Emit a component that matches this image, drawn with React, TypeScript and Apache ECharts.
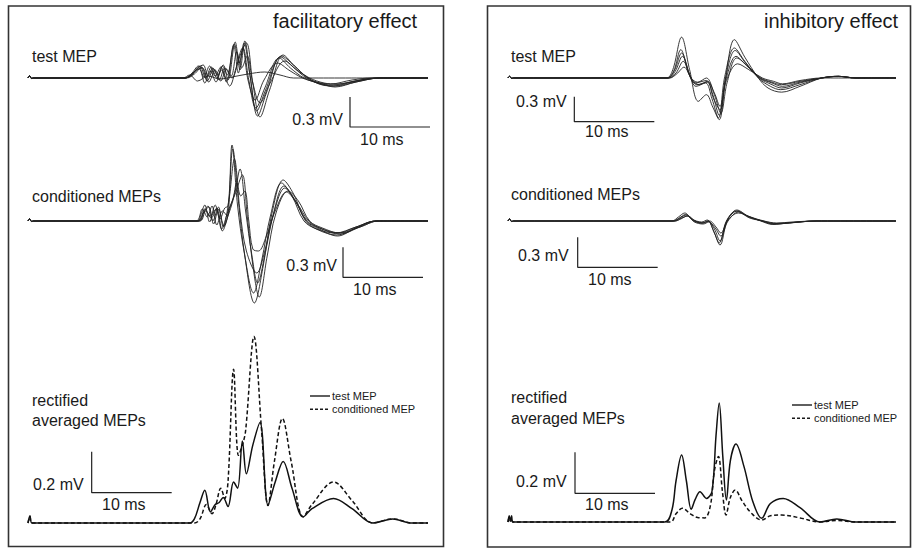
import React, { useEffect, useRef } from "react";
import * as echarts from "echarts";

// ---------- data (time in ms, amplitude in mV) ----------
const PRE: number[][] = [[0, 0], [0.2, 0.02], [0.45, -0.005], [0.7, 0]];

// Facilitatory effect – single test MEP sweeps
const FAC_TEST_SWEEPS: number[][][] = [
  [[19.5, 0], [20.3, 0.02], [21.2, 0.1], [21.9, 0.13], [22.5, 0.02], [23.1, 0.1], [23.7, 0.03], [24.4, 0.13], [25.0, -0.02], [25.9, 0.36], [26.5, 0.08], [27.1, 0.37], [27.8, 0.0], [28.7, -0.38], [29.8, -0.15], [31.6, 0.21], [33.0, 0.12], [34.8, 0], [36.5, -0.06], [38.2, -0.08], [40.5, -0.04], [43.5, 0], [50, 0]],
  [[19.6, 0], [20.5, 0.03], [21.5, 0.12], [22.2, 0.0], [22.9, 0.11], [23.6, 0.0], [24.3, 0.12], [24.9, 0.03], [25.7, 0.33], [26.3, 0.05], [26.9, 0.3], [27.6, -0.02], [28.5, -0.3], [29.6, -0.1], [31.4, 0.2], [32.8, 0.1], [34.5, 0], [36.3, -0.05], [38.0, -0.07], [41, -0.03], [44, 0], [50, 0]],
  [[19.8, 0], [20.8, 0.04], [21.7, 0.11], [22.4, -0.03], [23.2, 0.09], [23.9, -0.02], [24.6, 0.1], [25.5, 0.0], [26.4, 0.2], [27.3, 0.35], [28.1, -0.05], [29.0, -0.39], [30.2, -0.12], [31.9, 0.23], [33.3, 0.12], [35.0, 0], [36.8, -0.06], [38.4, -0.09], [41, -0.04], [44, 0], [50, 0]],
  [[19.5, 0], [20.2, 0.02], [21.0, 0.08], [21.8, 0.1], [22.6, -0.04], [23.4, 0.08], [24.1, -0.03], [24.8, 0.09], [25.4, 0.02], [26.1, 0.26], [26.7, 0.1], [27.4, 0.22], [28.1, -0.05], [29.0, -0.25], [30.2, -0.06], [32.1, 0.17], [33.6, 0.08], [35.2, 0], [37, -0.05], [38.6, -0.06], [41.5, -0.02], [44, 0], [50, 0]],
  [[19.7, 0], [20.6, 0.05], [21.4, 0.09], [22.1, -0.05], [22.8, 0.07], [23.5, -0.04], [24.2, 0.08], [25.2, -0.08], [26.0, 0.1], [26.8, 0.3], [27.5, -0.02], [28.4, -0.22], [29.5, -0.02], [31.2, 0.15], [32.6, 0.08], [34.3, 0], [36, -0.04], [37.8, -0.06], [40.5, -0.02], [43, 0], [50, 0]],
  [[19.4, 0], [20.2, 0.03], [21.2, -0.03], [22.5, 0.02], [24, -0.01], [25.5, 0.01], [27.5, 0.04], [29.6, 0.06], [31.5, 0.03], [33.2, 0], [50, 0]],
  [[19.6, 0], [20.4, 0.04], [21.3, 0.12], [22.0, 0.01], [22.7, 0.12], [23.4, 0.02], [24.1, 0.11], [24.8, -0.04], [25.8, 0.34], [26.4, 0.15], [27.0, 0.35], [27.7, 0.05], [28.6, -0.33], [29.7, -0.12], [31.7, 0.22], [33.2, 0.13], [35.0, 0], [36.8, -0.07], [38.4, -0.08], [41, -0.04], [44, 0], [50, 0]],
];

// Facilitatory effect – conditioned MEP sweeps
const FAC_COND_SWEEPS: number[][][] = [
  [[21.2, 0], [21.6, 0.06], [22.1, 0.16], [22.7, -0.01], [23.4, 0.16], [24.0, 0.02], [24.6, 0.13], [25.0, 0.15], [25.6, 0.72], [26.3, 0.2], [27.1, -0.35], [28.3, -0.82], [29.4, -0.45], [30.5, 0.08], [31.9, 0.41], [33.2, 0.27], [34.7, 0.0], [36.3, -0.09], [38.6, -0.14], [41, -0.07], [43.5, 0], [50, 0]],
  [[21.4, 0], [22.0, 0.09], [22.6, 0.14], [23.2, -0.03], [23.8, 0.12], [24.5, -0.05], [25.2, 0.12], [25.9, 0.3], [26.5, 0.52], [27.2, 0.1], [28.0, -0.35], [28.7, -0.62], [29.7, -0.3], [30.8, 0.1], [32.1, 0.33], [33.4, 0.2], [34.9, 0], [36.5, -0.07], [38.8, -0.12], [41, -0.06], [43.5, 0], [50, 0]],
  [[21.0, 0], [21.8, 0.12], [22.4, 0.04], [23.0, 0.15], [23.6, -0.04], [24.3, 0.1], [24.9, 0.05], [25.5, 0.76], [26.2, 0.15], [27.0, -0.3], [28.2, -0.72], [29.2, -0.4], [30.3, 0.05], [31.7, 0.38], [33.0, 0.25], [34.5, 0], [36.1, -0.08], [38.4, -0.12], [41, -0.06], [43.5, 0], [50, 0]],
  [[21.5, 0], [22.2, 0.1], [22.9, 0.03], [23.6, 0.13], [24.3, -0.1], [25.0, 0.05], [25.6, 0.2], [26.1, 0.38], [26.6, 0.25], [27.1, 0.3], [27.6, 0.0], [28.1, -0.28], [28.8, -0.3], [29.8, -0.15], [30.9, 0.1], [32.3, 0.29], [33.6, 0.18], [35.1, 0], [36.7, -0.08], [39, -0.13], [41.5, -0.06], [43.8, 0], [50, 0]],
  [[21.2, 0], [21.9, 0.08], [22.5, 0.15], [23.1, 0.0], [23.8, 0.14], [24.4, -0.06], [25.1, 0.2], [25.8, 0.62], [26.5, 0.1], [27.3, -0.3], [28.6, -0.52], [29.6, -0.3], [30.6, 0.05], [32.0, 0.35], [33.3, 0.22], [34.8, 0], [36.4, -0.08], [38.7, -0.15], [41, -0.07], [43.5, 0], [50, 0]],
  [[21.3, 0], [22.1, 0.12], [22.8, 0.05], [23.5, 0.12], [24.2, -0.08], [25.0, 0.1], [25.8, 0.25], [26.8, 0.46], [27.4, 0.05], [28.2, -0.5], [28.9, -0.76], [29.9, -0.35], [31.0, 0.08], [32.5, 0.3], [33.8, 0.2], [35.2, 0], [36.8, -0.07], [39, -0.12], [41.5, -0.06], [43.8, 0], [50, 0]],
];

// Facilitatory effect – rectified averages
const FAC_RECT_TEST: number[][] = [[0, 0], [0.25, 0.035], [0.5, 0.0], [20.2, 0], [20.8, 0.02], [21.5, 0.1], [22.1, 0.16], [22.8, 0.055], [23.4, 0.09], [23.9, 0.1], [24.4, 0.125], [25.0, 0.08], [25.7, 0.2], [26.2, 0.17], [26.8, 0.4], [27.3, 0.24], [28.1, 0.38], [29.0, 0.49], [30.0, 0.088], [30.9, 0.2], [31.9, 0.3], [33.0, 0.17], [34.4, 0.03], [35.5, 0.07], [38.2, 0.12], [40.5, 0.07], [43.1, 0.0], [45.6, 0.02], [48, 0.0], [50, 0]];
const FAC_RECT_COND: number[][] = [[0, 0], [0.25, 0.03], [0.5, 0], [20.8, 0], [21.5, 0.02], [22.3, 0.09], [23.0, 0.045], [23.5, 0.09], [24.1, 0.17], [24.6, 0.12], [25.0, 0.2], [25.7, 0.75], [26.3, 0.33], [26.8, 0.38], [27.2, 0.45], [28.25, 0.91], [29.2, 0.45], [30.0, 0.085], [30.8, 0.3], [31.8, 0.51], [32.9, 0.3], [34.4, 0.03], [35.5, 0.09], [38.2, 0.2], [40.5, 0.11], [43.1, 0.0], [45.6, 0.02], [48, 0], [50, 0]];

// Inhibitory effect – single test MEP sweeps
const INH_TEST_SWEEPS: number[][][] = [
  [[19.8, 0], [20.6, 0.1], [21.7, 0.49], [22.7, 0.1], [23.8, -0.28], [24.8, -0.2], [25.6, -0.35], [26.4, -0.5], [27.2, 0.0], [28.3, 0.46], [29.6, 0.25], [31.3, 0], [32.5, -0.12], [34.2, -0.17], [36.5, -0.1], [39.2, 0], [41.3, 0.02], [43.5, 0], [48.5, 0]],
  [[19.9, 0], [20.7, 0.08], [21.6, 0.34], [22.6, 0.05], [23.4, -0.06], [24.8, -0.03], [25.6, -0.2], [26.4, -0.45], [27.2, 0.0], [28.4, 0.33], [29.7, 0.18], [31.4, 0], [33, -0.08], [34.2, -0.12], [36.5, -0.06], [39.2, 0], [41.3, 0.02], [43.5, 0], [48.5, 0]],
  [[20.0, 0], [20.9, 0.08], [21.8, 0.26], [22.8, 0.02], [23.6, -0.08], [24.9, -0.05], [25.7, -0.25], [26.5, -0.38], [27.3, 0.0], [28.5, 0.26], [29.8, 0.15], [31.5, 0], [33, -0.06], [34.3, -0.1], [36.5, -0.05], [39.2, 0], [41.3, 0.02], [43.5, 0], [48.5, 0]],
  [[20.1, 0], [21.0, 0.06], [21.9, 0.2], [22.9, 0.0], [23.7, -0.05], [24.8, 0.0], [25.8, -0.2], [26.6, -0.42], [27.4, -0.05], [28.6, 0.24], [30.0, 0.14], [31.6, 0], [33, -0.05], [34.2, -0.08], [36.5, -0.04], [39.2, 0], [41.3, 0.02], [43.5, 0], [48.5, 0]],
  [[20.2, 0], [21.1, 0.05], [22.0, 0.13], [23.0, -0.02], [23.9, -0.08], [24.9, -0.04], [25.8, -0.18], [26.5, -0.34], [27.3, -0.03], [28.7, 0.17], [30.1, 0.1], [31.8, 0], [33.2, -0.04], [34.3, -0.07], [36.5, -0.03], [39.2, 0], [43.5, 0], [48.5, 0]],
  [[19.9, 0], [20.8, 0.09], [21.7, 0.3], [22.7, 0.04], [23.5, -0.1], [24.7, -0.06], [25.5, -0.25], [26.3, -0.48], [27.1, 0.02], [28.3, 0.36], [29.6, 0.2], [31.3, 0], [32.8, -0.1], [34.1, -0.14], [36.5, -0.08], [39.2, 0], [41.3, 0.02], [43.5, 0], [48.5, 0]],
];

// Inhibitory effect – conditioned MEP sweeps
const INH_COND_SWEEPS: number[][][] = [
  [[20.5, 0], [21.3, 0.04], [22.1, 0.08], [23.0, 0.02], [24.2, -0.01], [24.9, 0.01], [25.7, -0.1], [26.5, -0.24], [27.4, 0.0], [28.6, 0.11], [30.0, 0.05], [31.7, 0], [33.2, -0.03], [35.0, -0.02], [38.5, 0], [48.5, 0]],
  [[20.7, 0], [21.5, 0.03], [22.3, 0.06], [23.2, 0.0], [24.3, -0.02], [25.0, 0.0], [25.8, -0.08], [26.5, -0.2], [27.4, 0.01], [28.7, 0.1], [30.1, 0.04], [31.8, 0], [33.4, -0.03], [35.2, -0.02], [38.5, 0], [48.5, 0]],
  [[20.8, 0], [21.6, 0.02], [22.4, 0.05], [23.3, -0.01], [24.4, -0.03], [25.1, -0.01], [25.9, -0.07], [26.6, -0.15], [27.5, 0.0], [28.8, 0.09], [30.2, 0.03], [31.9, 0], [33.5, -0.025], [35.5, -0.015], [38.5, 0], [48.5, 0]],
  [[20.6, 0], [21.4, 0.03], [22.2, 0.065], [23.1, 0.01], [24.2, -0.02], [25.0, 0.0], [25.8, -0.12], [26.4, -0.22], [27.3, 0.0], [28.5, 0.1], [29.9, 0.05], [31.6, 0], [33.1, -0.035], [35, -0.02], [38.5, 0], [48.5, 0]],
  [[20.9, 0], [21.7, 0.03], [22.5, 0.05], [23.4, 0.0], [24.5, -0.02], [25.2, 0.0], [26.0, -0.06], [26.6, -0.12], [27.5, 0.01], [28.8, 0.08], [30.3, 0.04], [32, 0], [33.6, -0.02], [35.5, -0.01], [38.5, 0], [48.5, 0]],
];

// Inhibitory effect – rectified averages
const INH_RECT_TEST: number[][] = [[0, 0], [0.15, 0.03], [0.3, 0.005], [0.45, 0.03], [0.6, 0], [19.6, 0], [20.5, 0.06], [21.0, 0.2], [21.7, 0.327], [22.3, 0.2], [22.9, 0.062], [23.4, 0.11], [24.0, 0.148], [24.8, 0.115], [25.5, 0.15], [26.0, 0.42], [26.4, 0.58], [26.85, 0.32], [27.3, 0.107], [27.8, 0.3], [28.5, 0.38], [29.5, 0.27], [30.6, 0.1], [31.7, 0.018], [32.8, 0.09], [34.4, 0.115], [36.5, 0.07], [39.0, 0.0], [41.1, 0.015], [43.5, 0.0], [48.5, 0]];
const INH_RECT_COND: number[][] = [[0, 0], [0.15, 0.02], [0.3, 0.005], [0.45, 0.02], [0.6, 0], [20.3, 0], [21.0, 0.04], [21.8, 0.067], [22.8, 0.04], [23.7, 0.022], [24.6, 0.02], [25.3, 0.08], [25.8, 0.25], [26.3, 0.32], [26.8, 0.15], [27.25, 0.034], [27.8, 0.12], [28.4, 0.156], [29.3, 0.1], [30.5, 0.04], [31.7, 0.01], [32.8, 0.03], [34.2, 0.034], [36.5, 0.02], [39, 0], [41.1, 0.008], [43.5, 0], [48.5, 0]];

// Calibration bars: [grid, corner time (ms), corner amplitude (mV), height (mV), length (ms)]
const SCALE_BARS: number[][] = [
  [0, 40.25, -0.49, 0.3, 10],
  [1, 39.375, -0.563, 0.3, 10],
  [2, 7.96, 0.148, 0.2, 10],
  [3, 8.29, -0.524, 0.3, 10],
  [4, 8.71, -0.463, 0.3, 10],
  [5, 8.375, 0.14, 0.2, 10],
];

const FONT = '"Liberation Sans", Arial, Helvetica, sans-serif';
const INK = "#1a1a1a";

function txt(text: string, x: number, y: number, size: number, align = "left") {
  return {
    type: "text",
    x,
    y,
    silent: true,
    style: {
      text,
      fill: INK,
      font: `normal ${size}px ${FONT}`,
      align,
      textAlign: align,
      verticalAlign: "middle",
      textVerticalAlign: "middle",
    },
  };
}

function seg(x1: number, y1: number, x2: number, y2: number, dash?: number[]) {
  return {
    type: "line",
    silent: true,
    shape: { x1, y1, x2, y2 },
    style: { stroke: INK, lineWidth: 1.4, lineDash: dash || null },
  };
}

export default function App() {
  const ref = useRef<HTMLDivElement>(null);

  useEffect(() => {
    if (!ref.current) return;
    const chart = echarts.init(ref.current, undefined, { renderer: "svg" });

    const grids = [
      { left: 28, top: 28, width: 400, height: 110 },
      { left: 28, top: 141, width: 400, height: 170 },
      { left: 28, top: 318, width: 400, height: 225.5 },
      { left: 508, top: 28, width: 388, height: 108.333 },
      { left: 508, top: 141, width: 388, height: 170 },
      { left: 508, top: 317, width: 388, height: 225.5 },
    ];
    const xMax = [50, 50, 50, 48.5, 48.5, 48.5];
    const yRange = [
      [-0.6, 0.5],
      [-0.9, 0.8],
      [-0.1, 1.0],
      [-0.7, 0.6],
      [-0.9, 0.8],
      [-0.1, 1.0],
    ];

    const series: any[] = [];
    const sweep = (g: number, data: number[][]) =>
      series.push({
        type: "line",
        xAxisIndex: g,
        yAxisIndex: g,
        data: PRE.concat(data),
        smooth: 0.35,
        symbol: "none",
        silent: true,
        lineStyle: { color: "#222", width: 0.9 },
      });
    FAC_TEST_SWEEPS.forEach((d) => sweep(0, d));
    FAC_COND_SWEEPS.forEach((d) => sweep(1, d));
    INH_TEST_SWEEPS.forEach((d) => sweep(3, d));
    INH_COND_SWEEPS.forEach((d) => sweep(4, d));

    const rect = (g: number, data: number[][], dashed: boolean) =>
      series.push({
        type: "line",
        xAxisIndex: g,
        yAxisIndex: g,
        data,
        smooth: 0.35,
        symbol: "none",
        silent: true,
        lineStyle: { color: "#111", width: 1.5, type: dashed ? [4, 2.5] : "solid" },
      });
    rect(2, FAC_RECT_COND, true);
    rect(2, FAC_RECT_TEST, false);
    rect(5, INH_RECT_COND, true);
    rect(5, INH_RECT_TEST, false);

    SCALE_BARS.forEach(([g, t, v, dv, dt]) =>
      series.push({
        type: "line",
        xAxisIndex: g,
        yAxisIndex: g,
        data: [
          [t, v + dv],
          [t, v],
          [t + dt, v],
        ],
        clip: false,
        symbol: "none",
        silent: true,
        lineStyle: { color: "#222", width: 1.2 },
      })
    );

    const graphic: any[] = [
      { type: "rect", silent: true, shape: { x: 8.5, y: 6, width: 435, height: 540.5 }, style: { fill: "none", stroke: "#333", lineWidth: 1.6 } },
      { type: "rect", silent: true, shape: { x: 487.5, y: 6, width: 423, height: 541 }, style: { fill: "none", stroke: "#333", lineWidth: 1.6 } },
      // left panel texts
      txt("facilitatory effect", 273, 21, 20),
      txt("test MEP", 32, 56, 16),
      txt("conditioned MEPs", 32, 196, 16),
      txt("rectified", 32, 400, 16),
      txt("averaged MEPs", 32, 420.5, 16),
      txt("0.3 mV", 343, 119.5, 16, "right"),
      txt("10 ms", 360, 139.5, 16),
      txt("0.3 mV", 337, 265, 16, "right"),
      txt("10 ms", 353, 289.3, 16),
      txt("0.2 mV", 33, 484.5, 16),
      txt("10 ms", 102, 504.3, 16),
      seg(310, 396, 330, 396),
      seg(310, 409.3, 330, 409.3, [3, 2]),
      txt("test MEP", 332, 396, 11),
      txt("conditioned MEP", 332, 409.3, 11),
      // right panel texts
      txt("inhibitory effect", 764, 21, 20),
      txt("test MEP", 511, 56, 16),
      txt("0.3 mV", 516, 101.6, 16),
      txt("10 ms", 585, 131.6, 16),
      txt("conditioned MEPs", 511, 194.5, 16),
      txt("0.3 mV", 518, 255.3, 16),
      txt("10 ms", 588, 279.3, 16),
      txt("rectified", 511, 397.6, 16),
      txt("averaged MEPs", 511, 418.3, 16),
      txt("0.2 mV", 516, 481.6, 16),
      txt("10 ms", 585, 504.3, 16),
      seg(792, 405, 812, 405),
      seg(792, 418.3, 812, 418.3, [3, 2]),
      txt("test MEP", 814, 405, 11),
      txt("conditioned MEP", 814, 418.3, 11),
    ];

    chart.setOption({
      animation: false,
      backgroundColor: "#ffffff",
      grid: grids.map((g) => ({ ...g, containLabel: false, show: false })),
      xAxis: grids.map((_, i) => ({
        type: "value",
        gridIndex: i,
        min: 0,
        max: xMax[i],
        show: false,
      })),
      yAxis: grids.map((_, i) => ({
        type: "value",
        gridIndex: i,
        min: yRange[i][0],
        max: yRange[i][1],
        show: false,
      })),
      series,
      graphic,
    });

    return () => chart.dispose();
  }, []);

  return (
    <div
      ref={ref}
      style={{ position: "fixed", left: 0, top: 0, width: 912, height: 549, background: "#fff" }}
    />
  );
}
